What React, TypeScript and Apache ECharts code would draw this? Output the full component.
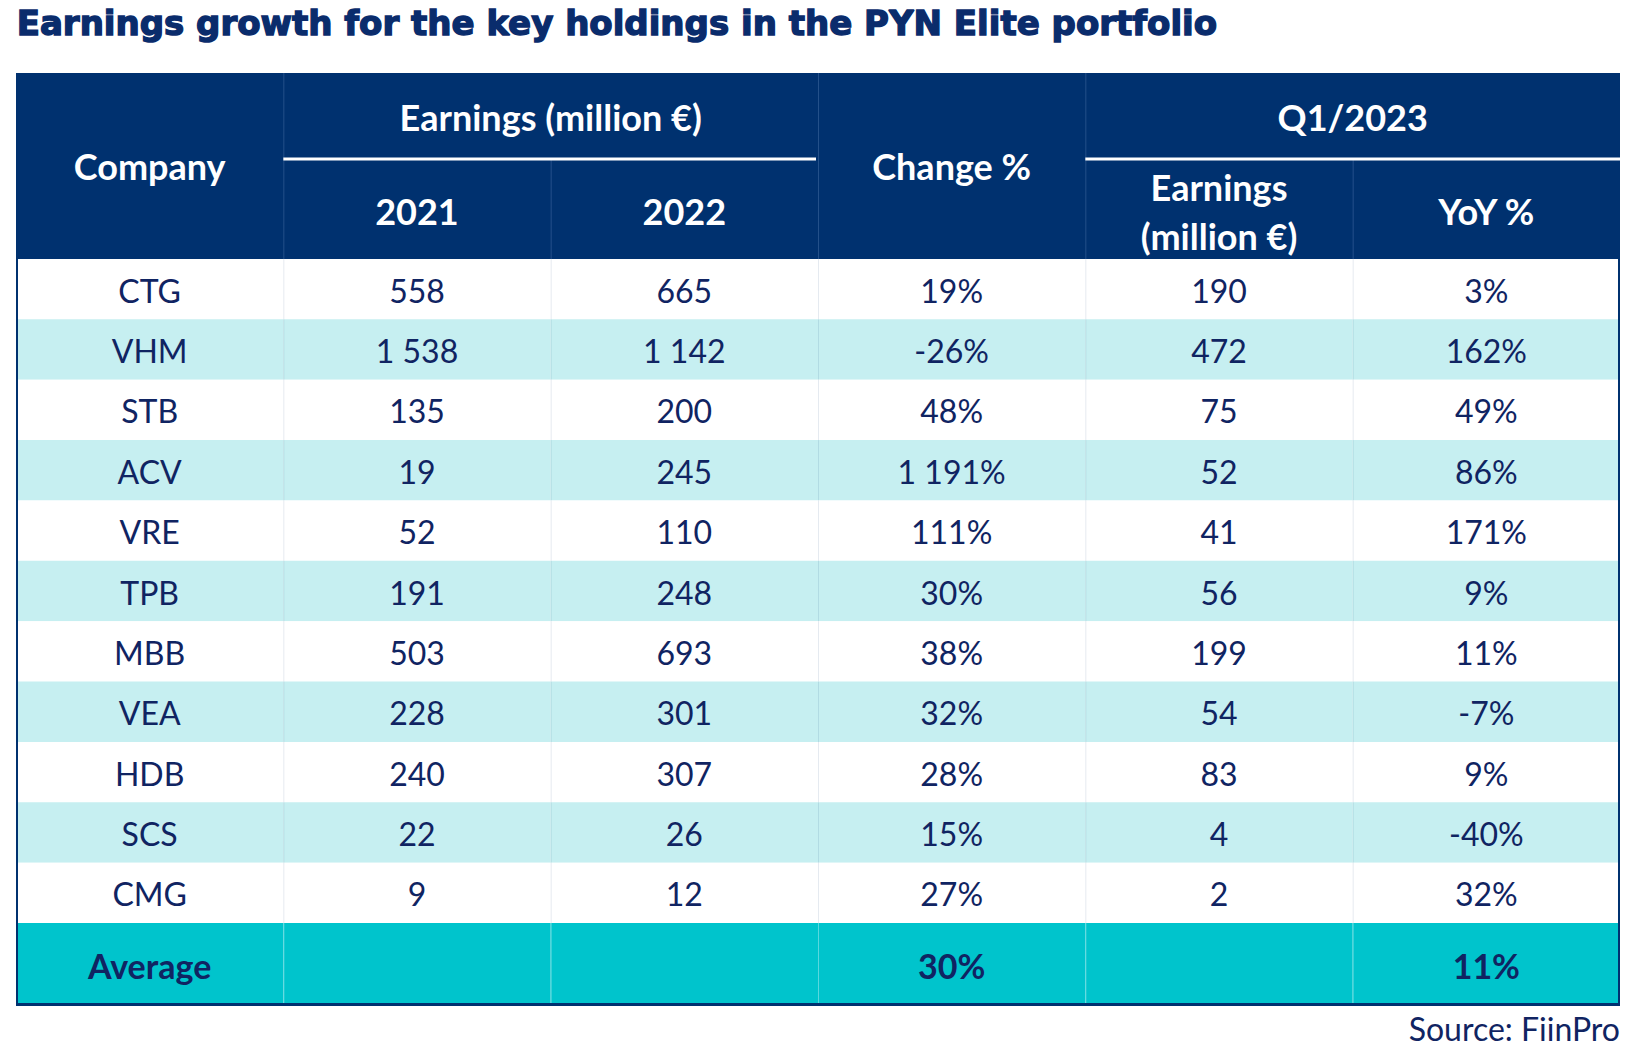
import React, { useEffect, useRef } from "react";
import * as echarts from "echarts";

const title = "Earnings growth for the key holdings in the PYN Elite portfolio";
const source = "Source: FiinPro";
const companies = ["CTG", "VHM", "STB", "ACV", "VRE", "TPB", "MBB", "VEA", "HDB", "SCS", "CMG"];
const earnings2021 = [558, 1538, 135, 19, 52, 191, 503, 228, 240, 22, 9];
const earnings2022 = [665, 1142, 200, 245, 110, 248, 693, 301, 307, 26, 12];
const changePct = [19, -26, 48, 1191, 111, 30, 38, 32, 28, 15, 27];
const q1Earnings = [190, 472, 75, 52, 41, 56, 199, 54, 83, 4, 2];
const yoyPct = [3, 162, 49, 86, 171, 9, 11, -7, 9, -40, 32];
const averageLabel = "Average";
const avgChange = 30;
const avgYoy = 11;
const columnKeys = ["company", "y2021", "y2022", "change", "q1", "yoy"];

const NAVY = "#00316F";
const TEXT = "#102462";
const CYAN_ROW = "#C6EFF1";
const AVG_ROW = "#00C4CC";
const FONT = "Lato, 'Noto Sans', sans-serif";

const fmt = (v: number) => {
  const neg = v < 0;
  const s = String(Math.abs(v)).replace(/\B(?=(\d{3})+(?!\d))/g, " ");
  return (neg ? "-" : "") + s;
};
const pct = (v: number) => fmt(v) + "%";

const L = 16, R = 1620, W = R - L;
const HEAD_TOP = 73, HEAD_MID = 159, HEAD_BOT = 259;
const BODY_BOT = 923, AVG_BOT = 1005;
const COLW = W / 6;

export default function App() {
  const ref = useRef<HTMLDivElement>(null);
  useEffect(() => {
    document.body.style.margin = "0";
    const chart = echarts.init(ref.current!, null, { renderer: "svg" });

    const bodyData: any[] = [];
    companies.forEach((c, r) => {
      const vals = [c, fmt(earnings2021[r]), fmt(earnings2022[r]), pct(changePct[r]), fmt(q1Earnings[r]), pct(yoyPct[r])];
      vals.forEach((t, ci) => bodyData.push([ci, r, t]));
    });
    const avgVals = [averageLabel, "", "", pct(avgChange), "", pct(avgYoy)];
    const avgData = avgVals.map((t, ci) => [ci, 0, t]);

    function cellText(params: any) {
      const arr = params.seriesIndex === 0 ? bodyData : avgData;
      return arr[params.dataIndex][2];
    }
    const cell = (fill: any, divider: string, bold: boolean, fontSize: number) => (params: any, api: any) => {
      const ci = api.value(0);
      const p = api.coord([ci, api.value(1)]);
      const s = api.size([1, 1]);
      const x0 = p[0] - s[0] / 2, y0 = p[1] - s[1] / 2;
      const text = cellText(params);
      const children: any[] = [
        { type: "rect", shape: { x: x0, y: y0, width: s[0], height: s[1] }, style: { fill: typeof fill === "function" ? fill(api.value(1)) : fill } },
      ];
      if (ci > 0) children.push({ type: "line", shape: { x1: x0 + 0.5, y1: y0, x2: x0 + 0.5, y2: y0 + s[1] }, style: { stroke: divider, lineWidth: 1 } });
      children.push({
        type: "text",
        x: p[0],
        y: p[1] + 1,
        style: { text, align: "center", verticalAlign: "middle", fill: TEXT, font: `${bold ? "bold " : ""}${fontSize}px ${FONT}` },
      });
      return { type: "group", children };
    };

    const rowFill = (r: number) => (r % 2 === 1 ? CYAN_ROW : "#FFFFFF");

    const hText = (text: string, x: number, y: number) => ({
      type: "text", x, y, z: 10,
      style: { text, align: "center", verticalAlign: "middle", fill: "#FFFFFF", font: `bold 36px ${FONT}`, lineHeight: 49 },
    });
    const vLine = (x: number, y1: number, y2: number, color: string, w = 1) => ({
      type: "line", z: 10, shape: { x1: x, y1, x2: x, y2 }, style: { stroke: color, lineWidth: w },
    });
    const colX = (i: number) => L + COLW * i;
    const colC = (i: number) => L + COLW * (i + 0.5);
    const faint = "#23508A";

    chart.setOption({
      animation: false,
      grid: [
        { left: L, top: HEAD_BOT, width: W, height: BODY_BOT - HEAD_BOT },
        { left: L, top: BODY_BOT, width: W, height: AVG_BOT - BODY_BOT },
      ],
      xAxis: [
        { type: "category", data: columnKeys, gridIndex: 0, show: false },
        { type: "category", data: columnKeys, gridIndex: 1, show: false },
      ],
      yAxis: [
        { type: "category", data: companies, gridIndex: 0, inverse: true, show: false },
        { type: "category", data: [averageLabel], gridIndex: 1, inverse: true, show: false },
      ],
      series: [
        { type: "custom", xAxisIndex: 0, yAxisIndex: 0, data: bodyData, renderItem: cell(rowFill, "rgba(0,49,111,0.10)", false, 32) },
        { type: "custom", xAxisIndex: 1, yAxisIndex: 1, data: avgData, renderItem: cell(AVG_ROW, "rgba(255,255,255,0.35)", true, 34) },
      ],
      graphic: [
        { type: "text", left: L, top: 5, style: { text: title, fill: "#0A2C6C", stroke: "#0A2C6C", lineWidth: 1.4, font: `bold 34px 'DejaVu Sans', sans-serif` } },
        { type: "rect", z: 5, shape: { x: L, y: HEAD_TOP, width: W, height: HEAD_BOT - HEAD_TOP }, style: { fill: NAVY } },
        vLine(colX(1) + 0.5, HEAD_TOP, HEAD_BOT, faint),
        vLine(colX(2) + 0.5, HEAD_MID, HEAD_BOT, faint),
        vLine(colX(3) + 0.5, HEAD_TOP, HEAD_BOT, faint),
        vLine(colX(4) + 0.5, HEAD_TOP, HEAD_BOT, faint),
        vLine(colX(5) + 0.5, HEAD_MID, HEAD_BOT, faint),
        { type: "line", z: 11, shape: { x1: colX(1), y1: HEAD_MID, x2: colX(3) - 2, y2: HEAD_MID }, style: { stroke: "#FFFFFF", lineWidth: 3 } },
        { type: "line", z: 11, shape: { x1: colX(4), y1: HEAD_MID, x2: R, y2: HEAD_MID }, style: { stroke: "#FFFFFF", lineWidth: 3 } },
        hText("Company", colC(0), (HEAD_TOP + HEAD_BOT) / 2),
        hText("Earnings (million €)", (colX(1) + colX(3)) / 2, (HEAD_TOP + HEAD_MID) / 2 + 1),
        hText("2021", colC(1), (HEAD_MID + HEAD_BOT) / 2 + 2),
        hText("2022", colC(2), (HEAD_MID + HEAD_BOT) / 2 + 2),
        hText("Change %", colC(3), (HEAD_TOP + HEAD_BOT) / 2),
        hText("Q1/2023", (colX(4) + colX(6)) / 2, (HEAD_TOP + HEAD_MID) / 2 + 1),
        hText("Earnings\n(million €)", colC(4), (HEAD_MID + HEAD_BOT) / 2 + 2),
        hText("YoY %", colC(5), (HEAD_MID + HEAD_BOT) / 2 + 2),
        vLine(L + 1, HEAD_TOP, AVG_BOT, NAVY, 2),
        vLine(R - 1, HEAD_TOP, AVG_BOT, NAVY, 2),
        { type: "line", z: 12, shape: { x1: L, y1: AVG_BOT - 0.5, x2: R, y2: AVG_BOT - 0.5 }, style: { stroke: NAVY, lineWidth: 3 } },
        { type: "text", right: 1636 - R, top: 1012, style: { text: source, fill: TEXT, font: `32px ${FONT}` } },
      ],
    });
    return () => chart.dispose();
  }, []);
  return <div ref={ref} style={{ width: 1636, height: 1056 }} />;
}
